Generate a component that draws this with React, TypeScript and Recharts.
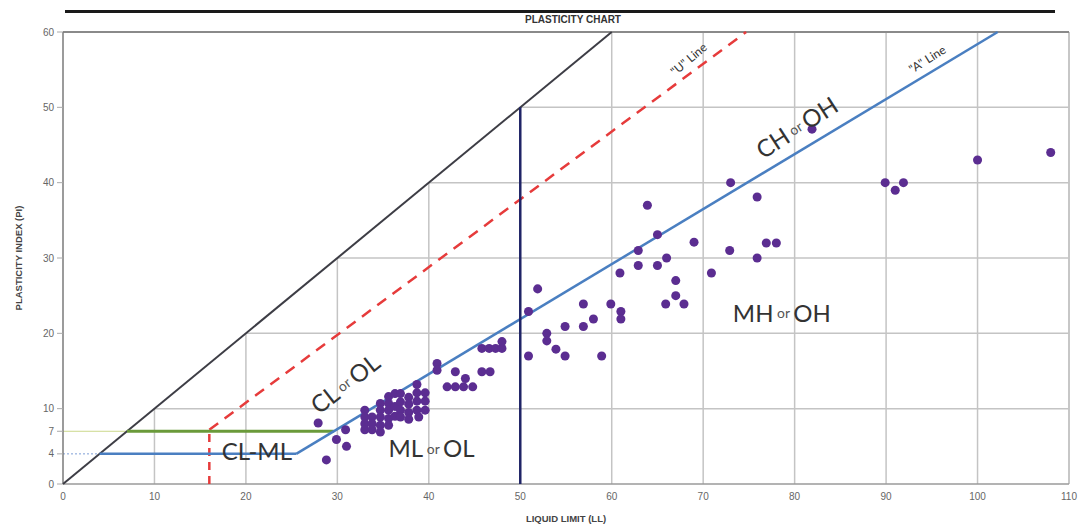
import {
  ComposedChart,
  Label,
  ReferenceDot,
  ReferenceLine,
  Scatter,
  XAxis,
  YAxis,
} from "recharts";

const xTicks = [0, 10, 20, 30, 40, 50, 60, 70, 80, 90, 100, 110];
const yTicks = [0, 4, 7, 10, 20, 30, 40, 50, 60];

// [LL, PI] samples
const lowPlasticity: [number, number][] = [
  [27.9, 8.1], [28.8, 3.2], [29.9, 5.9], [30.9, 7.2], [31, 5],
  [33, 9.8], [33, 8.9], [33, 8], [33, 7.2],
  [33.8, 8.9], [33.8, 8], [33.8, 7.2],
  [34.7, 10.7], [34.7, 9.8], [34.7, 8.9], [34.7, 7.8], [34.7, 6.9],
  [35.6, 11.6], [35.6, 10.7], [35.6, 9.8], [35.6, 8.7], [35.6, 7.8],
  [36.3, 12], [36.3, 10.3], [36.3, 9],
  [36.9, 12], [36.9, 10.9], [36.9, 9.8], [36.9, 8.9],
  [37.8, 11.5], [37.8, 10.6], [37.8, 9.5], [37.8, 8.6],
  [38.7, 13.2], [38.7, 12.1], [38.7, 11], [38.7, 9.8], [38.9, 8.9],
  [39.6, 12.1], [39.6, 11], [39.6, 9.8],
  [40.9, 16], [40.9, 15.1],
  [42, 12.9], [42.9, 12.9], [43.8, 12.9], [44.8, 12.9],
  [42.9, 14.9], [44, 14], [45.8, 14.9], [46.7, 14.9],
  [45.8, 18], [46.6, 18], [47.3, 18], [48, 18], [48, 18.9],
];

const highPlasticity: [number, number][] = [
  [50.9, 17], [50.9, 22.9], [51.9, 25.9], [52.9, 20], [52.9, 19],
  [53.9, 17.9], [54.9, 17], [54.9, 20.9], [56.9, 20.9], [56.9, 23.9],
  [58, 21.9], [58.9, 17], [59.9, 23.9], [61, 22.9], [61, 21.9],
  [60.9, 28], [62.9, 31], [62.9, 29], [63.9, 37], [65, 33.1],
  [65, 29], [66, 30], [65.9, 23.9], [67, 27], [67, 25],
  [67.9, 23.9], [69, 32.1], [70.9, 28], [73, 40], [72.9, 31],
  [75.9, 38.1], [75.9, 30], [76.9, 32], [78, 32], [81.9, 47.1],
  [89.9, 40], [91, 39], [91.9, 40], [100, 43], [108, 44],
];

// classification lines (end points)
const equalityLine: [number, number][] = [[0, 0], [60, 60]];
const uLine: [number, number][] = [[16, 7.2], [74.7, 60]];
const uLineFoot: [number, number][] = [[16, 0], [16, 7.2]];
const aLine: [number, number][] = [[25.5, 4], [102.2, 60]];
const clmlLower: [number, number][] = [[4, 4], [25.5, 4]];
const clmlUpper: [number, number][] = [[7, 7], [29.6, 7]];
const llDivide: [number, number][] = [[50, 0], [50, 50]];

const toPoints = (arr: [number, number][]) => arr.map(([ll, pi]) => ({ ll, pi }));

const zoneLabels = [
  { ll: 21.2, pi: 4.5, parts: ["CL-ML"], angle: 0, size: 24 },
  { ll: 40.3, pi: 4.8, parts: ["ML", "or", "OL"], angle: 0, size: 24 },
  { ll: 30.8, pi: 13.4, parts: ["CL", "or", "OL"], angle: -38, size: 24 },
  { ll: 80.2, pi: 47.4, parts: ["CH", "or", "OH"], angle: -33, size: 24 },
  { ll: 78.6, pi: 22.8, parts: ["MH", "or", "OH"], angle: 0, size: 24 },
  { ll: 68.4, pi: 56.4, parts: ['"U" Line'], angle: -40, size: 12 },
  { ll: 94.5, pi: 56.4, parts: ['"A" Line'], angle: -32, size: 12 },
];

const noDot = () => <g />;

const ZoneText = (props: any) => {
  const { cx, cy, parts, angle, size } = props;
  return (
    <text
      x={cx}
      y={cy}
      textAnchor="middle"
      dominantBaseline="central"
      transform={`rotate(${angle} ${cx} ${cy})`}
      fontFamily="Lato, 'Open Sans', sans-serif"
      fontSize={size}
      fill="#333"
    >
      {parts.length === 1 ? (
        parts[0]
      ) : (
        <>
          {parts[0]}
          <tspan fontSize={size * 0.58} fill="#555">
            {" "}
            {parts[1]}{" "}
          </tspan>
          {parts[2]}
        </>
      )}
    </text>
  );
};

const gridColor = "#c4c4c4";

export default function App() {
  return (
    <div style={{ position: "absolute", left: 0, top: 0, width: 1085, height: 524, background: "#fff" }}>
      <div
        style={{
          position: "absolute",
          left: 65,
          top: 10,
          width: 990,
          borderTop: "3px solid #1a1a1a",
        }}
      />
      <div
        style={{
          position: "absolute",
          left: 0,
          top: 14,
          width: 1146,
          textAlign: "center",
          fontFamily: "'Liberation Sans', Arial, sans-serif",
          fontSize: 10,
          fontWeight: 600,
          color: "#333",
        }}
      >
        PLASTICITY CHART
      </div>
      <ComposedChart
        width={1085}
        height={524}
        margin={{ top: 32, right: 16, bottom: 0, left: 0 }}
        style={{ fontFamily: "'Liberation Sans', Arial, sans-serif" }}
      >
        <XAxis
          type="number"
          dataKey="ll"
          domain={[0, 110]}
          ticks={xTicks}
          interval={0}
          height={40}
          tickSize={0}
          tickMargin={9}
          axisLine={{ stroke: "#9a9a9a", strokeWidth: 1.5 }}
          tickLine={false}
          tick={{ fontSize: 10, fill: "#666" }}
        >
          <Label
            value="LIQUID LIMIT (LL)"
            position="insideBottom"
            offset={2}
            style={{ fontSize: 9.5, fontWeight: 700, fill: "#444" }}
          />
        </XAxis>
        <YAxis
          type="number"
          dataKey="pi"
          domain={[0, 60]}
          ticks={yTicks}
          interval={0}
          width={63}
          tickSize={6}
          tickMargin={3}
          axisLine={{ stroke: "#7a7a7a", strokeWidth: 1.5 }}
          tickLine={{ stroke: "#aaa" }}
          tick={{ fontSize: 10, fill: "#666" }}
        >
          <Label
            content={({ viewBox }: any) => {
              const x = viewBox.x + 18;
              const y = viewBox.y + viewBox.height / 2;
              return (
                <text
                  x={x}
                  y={y}
                  transform={`rotate(-90 ${x} ${y})`}
                  textAnchor="middle"
                  dominantBaseline="central"
                  fontSize={9.5}
                  fontWeight={700}
                  fill="#444"
                >
                  PLASTICITY INDEX (PI)
                </text>
              );
            }}
          />
        </YAxis>

        {xTicks
          .filter((k) => k > 0)
          .map((k) => (
            <ReferenceLine
              key={`gx${k}`}
              segment={[{ x: k, y: 0 }, { x: k, y: Math.min(k, 60) }]}
              stroke={k === 110 ? "#b5b5b5" : gridColor}
              strokeWidth={1.5}
            />
          ))}
        {yTicks
          .filter((k) => k >= 10 && k < 60)
          .map((k) => (
            <ReferenceLine
              key={`gy${k}`}
              segment={[{ x: k, y: k }, { x: 110, y: k }]}
              stroke={gridColor}
              strokeWidth={1.5}
            />
          ))}
        <ReferenceLine
          segment={[{ x: 0, y: 60 }, { x: 110, y: 60 }]}
          stroke="#8a8a8a"
          strokeWidth={2}
        />
        <ReferenceLine
          segment={[{ x: 0, y: 7 }, { x: 7, y: 7 }]}
          stroke="#cbd98c"
          strokeWidth={1}
        />
        <ReferenceLine
          segment={[{ x: 0, y: 4 }, { x: 4, y: 4 }]}
          stroke="#7d9fd6"
          strokeWidth={1}
          strokeDasharray="2 2"
        />

        <Scatter
          data={toPoints(equalityLine)}
          line={{ stroke: "#3d3d45", strokeWidth: 2 }}
          shape={noDot}
          isAnimationActive={false}
        />
        <Scatter
          data={toPoints(uLine)}
          line={{ stroke: "#e63b3b", strokeWidth: 2.5, strokeDasharray: "11 8" }}
          shape={noDot}
          isAnimationActive={false}
        />
        <Scatter
          data={toPoints(uLineFoot)}
          line={{ stroke: "#e63b3b", strokeWidth: 2.5, strokeDasharray: "8 6" }}
          shape={noDot}
          isAnimationActive={false}
        />
        <Scatter
          data={toPoints(clmlUpper)}
          line={{ stroke: "#6a9a3a", strokeWidth: 3 }}
          shape={noDot}
          isAnimationActive={false}
        />
        <Scatter
          data={toPoints(clmlLower)}
          line={{ stroke: "#4a7fc1", strokeWidth: 2.5 }}
          shape={noDot}
          isAnimationActive={false}
        />
        <Scatter
          data={toPoints(aLine)}
          line={{ stroke: "#4a7fc1", strokeWidth: 2.5 }}
          shape={noDot}
          isAnimationActive={false}
        />
        <Scatter
          data={toPoints(llDivide)}
          line={{ stroke: "#1f2466", strokeWidth: 2.5 }}
          shape={noDot}
          isAnimationActive={false}
        />

        <Scatter data={toPoints(lowPlasticity)} fill="#5b2d91" isAnimationActive={false} />
        <Scatter data={toPoints(highPlasticity)} fill="#5b2d91" isAnimationActive={false} />

        {zoneLabels.map((z, i) => (
          <ReferenceDot
            key={`z${i}`}
            x={z.ll}
            y={z.pi}
            r={0}
            shape={(p: any) => (
              <ZoneText cx={p.cx} cy={p.cy} parts={z.parts} angle={z.angle} size={z.size} />
            )}
          />
        ))}
      </ComposedChart>
    </div>
  );
}
